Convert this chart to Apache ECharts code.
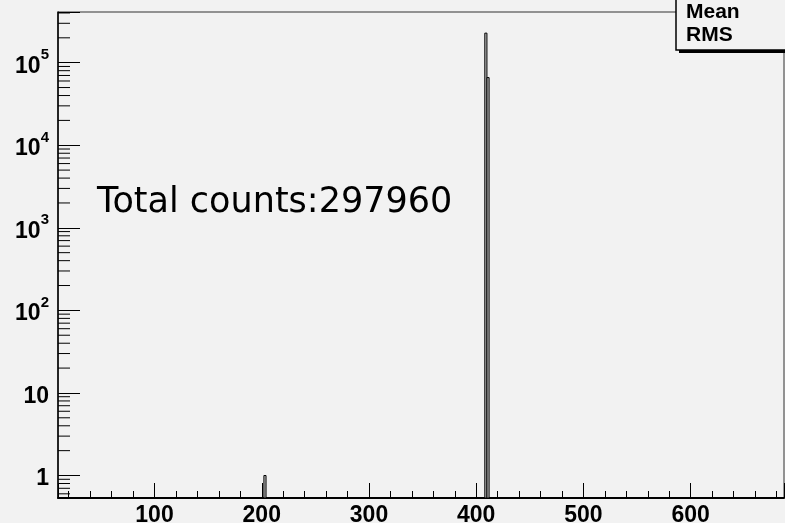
<!DOCTYPE html>
<html>
<head>
<meta charset="utf-8">
<script src="https://cdn.jsdelivr.net/npm/echarts@6/dist/echarts.min.js"></script>
<style>
html,body{margin:0;padding:0;background:#f2f2f2;}
#hist{width:785px;height:523px;}
</style>
</head>
<body>
<div id="hist"></div>
<script>
// histogram bins (lower edge, width 2) and counts
var binLow = [202, 408, 410];
var binWidth = 2;
var binCounts = [1, 228000, 66000];

// axis ranges
var xMin = 10, xMax = 687;
var yMin = 0.534, yMax = 411000;

// y minor ticks at 2..9 of each decade
var decades = [0.1, 1, 10, 100, 1000, 10000, 100000];
var multipliers = [2, 3, 4, 5, 6, 7, 8, 9];

var statNames = ['Mean', 'RMS'];
var totalText = 'Total counts:297960';

var yMinorTicks = [];
decades.forEach(function(d){
	multipliers.forEach(function(m){
		var v = d * m;
		if (v > yMin && v < yMax) yMinorTicks.push([xMin, v]);
	});
});

var histData = binLow.map(function(lo, i){ return [lo, binCounts[i]]; });

var chart = echarts.init(document.getElementById('hist'));

function yLabel(v){
	var p = Math.round(Math.log10(v));
	if (Math.abs(Math.log10(v) - p) > 1e-6) return '';
	if (p == 0) return '{b|1}';
	if (p == 1) return '{b|10}';
	return '{b|10}{s|' + p + '}';
}

var option = {
	backgroundColor: '#f2f2f2',
	animation: false,
	grid: {
		left: 58, right: 1, top: 12, bottom: 25,
		outerBoundsMode: 'none', containLabel: false,
		show: true, backgroundColor: '#f2f2f2', borderColor: '#333', borderWidth: 1
	},
	xAxis: {
		type: 'value', min: xMin, max: xMax,
		axisLine: {lineStyle: {color: '#000', width: 2}},
		axisTick: {inside: true, length: 15, lineStyle: {color: '#000', width: 1}},
		minorTick: {show: true, splitNumber: 5, length: 7, lineStyle: {color: '#000', width: 1}},
		splitLine: {show: false},
		axisLabel: {
			showMinLabel: false, showMaxLabel: false, margin: 6,
			color: '#000', fontFamily: 'Liberation Sans', fontWeight: 'bold', fontSize: 23
		}
	},
	yAxis: {
		type: 'log', logBase: 10, min: yMin, max: yMax,
		axisLine: {show: true, lineStyle: {color: '#000', width: 1.5}},
		axisTick: {inside: true, length: 22, lineStyle: {color: '#000', width: 1}},
		splitLine: {show: false},
		axisLabel: {
			margin: 9,
			formatter: yLabel,
			rich: {
				b: {color: '#000', fontFamily: 'Liberation Sans', fontWeight: 'bold', fontSize: 23, padding: [7, 0, 0, 0]},
				s: {color: '#000', fontFamily: 'Liberation Sans', fontWeight: 'bold', fontSize: 15, verticalAlign: 'top'}
			}
		}
	},
	series: [
		{
			type: 'custom',
			data: histData,
			clip: true,
			renderItem: function(params, api){
				var lo = api.value(0);
				var top = api.coord([lo, api.value(1)]);
				var bot = api.coord([lo + binWidth, yMin]);
				return {
					type: 'rect',
					shape: {x: top[0], y: top[1], width: bot[0] - top[0], height: bot[1] - top[1]},
					style: {fill: '#bdbdbd', stroke: '#000', lineWidth: 1}
				};
			}
		},
		{
			type: 'custom',
			data: yMinorTicks,
			silent: true,
			renderItem: function(params, api){
				var p = api.coord([api.value(0), api.value(1)]);
				return {
					type: 'line',
					shape: {x1: p[0], y1: p[1], x2: p[0] + 12, y2: p[1]},
					style: {stroke: '#000', lineWidth: 1}
				};
			}
		}
	],
	graphic: [
		{
			type: 'text', left: 97, top: 185, z: 10,
			style: {text: totalText, font: '35px "DejaVu Sans"', fill: '#000'}
		},
		{
			type: 'rect', z: 10,
			shape: {x: 679, y: -5, width: 120, height: 58},
			style: {fill: '#000'}
		},
		{
			type: 'rect', z: 11,
			shape: {x: 676, y: -5, width: 120, height: 55},
			style: {fill: '#f2f2f2', stroke: '#000', lineWidth: 1.5}
		},
		{
			type: 'text', left: 686, top: 2, z: 12,
			style: {text: statNames[0], font: 'bold 21px "Liberation Sans"', fill: '#000'}
		},
		{
			type: 'text', left: 686, top: 25, z: 12,
			style: {text: statNames[1], font: 'bold 21px "Liberation Sans"', fill: '#000'}
		}
	]
};

chart.setOption(option);
</script>
</body>
</html>
